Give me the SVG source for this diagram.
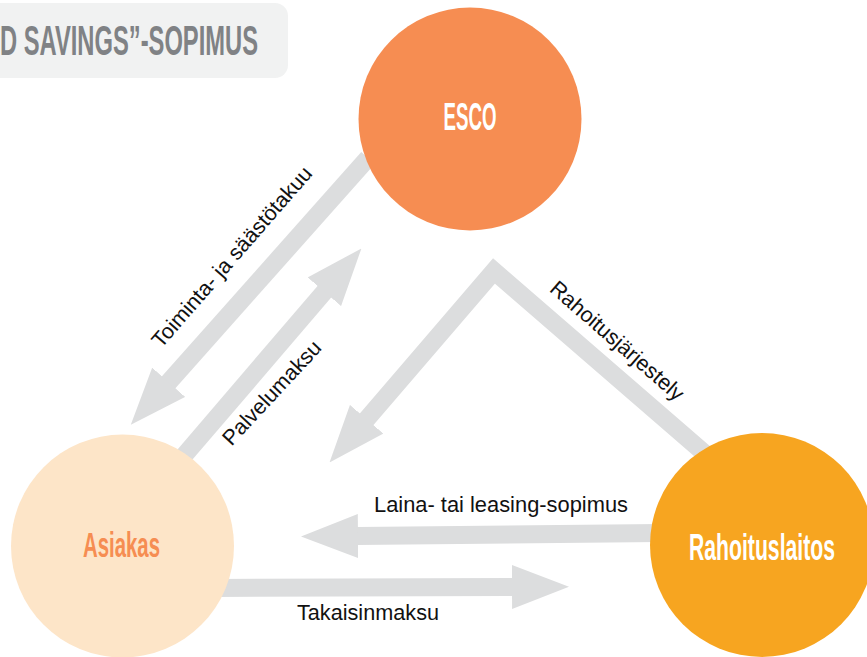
<svg xmlns="http://www.w3.org/2000/svg" width="867" height="657" viewBox="0 0 867 657">
<defs>
<style>
.shaft{fill:none;stroke:#dcddde;stroke-width:18;stroke-linejoin:miter;stroke-miterlimit:10}
.lbl{font-family:"Liberation Sans",Arial,sans-serif;font-size:21.5px;fill:#111111}
.node{font-family:"Liberation Sans Narrow","Liberation Sans",Arial,sans-serif;font-weight:bold;text-anchor:middle}
</style>
<marker id="head" markerUnits="userSpaceOnUse" viewBox="0 0 57 44" refX="1" refY="22" markerWidth="57" markerHeight="44" orient="auto">
<path d="M0,0 L57,22 L0,44 Z" fill="#dcddde"/>
</marker>
</defs>
<rect width="867" height="657" fill="#ffffff"/>
<g id="title">
<rect x="-20" y="3" width="308" height="75" rx="13" fill="#f1f2f2"/>
<text x="0" y="55" font-family="'Liberation Sans Narrow','Liberation Sans',Arial,sans-serif" font-weight="bold" font-size="42" fill="#808285" textLength="258" lengthAdjust="spacingAndGlyphs">D SAVINGS”-SOPIMUS</text>
</g>
<g id="connectors">
<path class="shaft" d="M368,158 L168,383" marker-end="url(#head)"/>
<path class="shaft" d="M182,458 L325,291" marker-end="url(#head)"/>
<path class="shaft" d="M710,458 L494,271 L366,420" marker-end="url(#head)"/>
<path class="shaft" d="M660,533 L357,536" marker-end="url(#head)"/>
<path class="shaft" d="M215,588 L513,587" marker-end="url(#head)"/>
<text class="lbl" text-anchor="middle" transform="translate(232,257) rotate(-49)" y="7">Toiminta- ja säästötakuu</text>
<text class="lbl" text-anchor="middle" transform="translate(272,393) rotate(-47)" y="7">Palvelumaksu</text>
<text class="lbl" text-anchor="middle" transform="translate(617,341) rotate(41)" y="7">Rahoitusjärjestely</text>
<text class="lbl" x="374" y="512" textLength="254" lengthAdjust="spacingAndGlyphs">Laina- tai leasing-sopimus</text>
<text class="lbl" x="297" y="620" textLength="142" lengthAdjust="spacingAndGlyphs">Takaisinmaksu</text>
</g>
<g id="esco">
<circle cx="470" cy="119" r="111.5" fill="#f68d52"/>
<text class="node" x="470" y="130" font-size="39" fill="#ffffff" textLength="53" lengthAdjust="spacingAndGlyphs">ESCO</text>
</g>
<g id="asiakas">
<circle cx="122.5" cy="546" r="111.5" fill="#fde5c8"/>
<text class="node" x="121.5" y="557" font-size="35" fill="#f68d52" textLength="77" lengthAdjust="spacingAndGlyphs">Asiakas</text>
</g>
<g id="rahoituslaitos">
<circle cx="762" cy="545" r="112" fill="#f7a520"/>
<text class="node" x="762" y="560" font-size="36" fill="#ffffff" textLength="146" lengthAdjust="spacingAndGlyphs">Rahoituslaitos</text>
</g>
</svg>
